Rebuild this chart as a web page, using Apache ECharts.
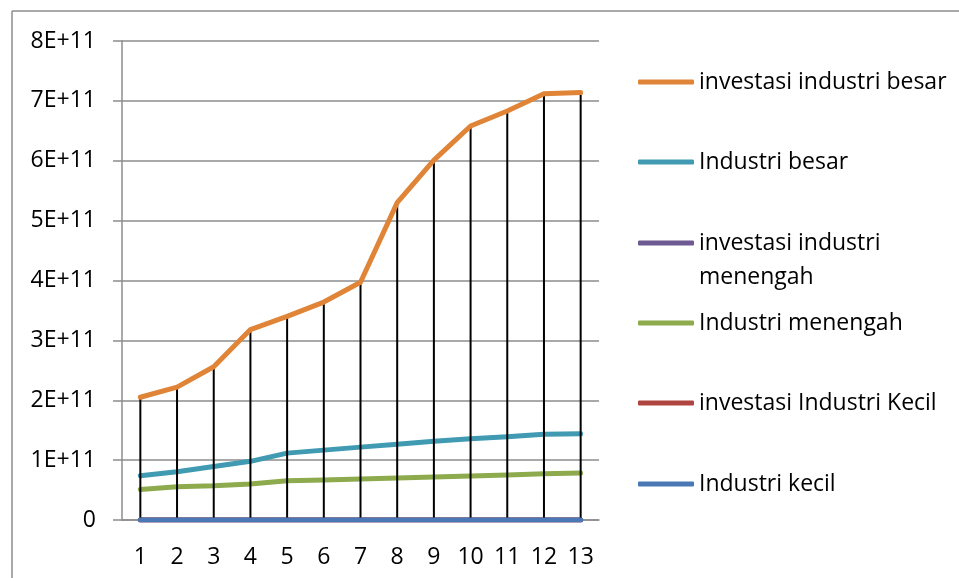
<!DOCTYPE html>
<html>
<head>
<meta charset="utf-8">
<script src="https://cdn.jsdelivr.net/npm/echarts@6/dist/echarts.min.js"></script>
<style>
  html, body { margin: 0; padding: 0; background: #fff; }
  #chart { width: 959px; height: 578px; }
</style>
</head>
<body>
<div id="chart"></div>
<script>
// Periods 1..13
const categories = ['1','2','3','4','5','6','7','8','9','10','11','12','13'];

// Series values
const investasiIndustriBesar    = [2.05e11, 2.22e11, 2.56e11, 3.18e11, 3.40e11, 3.64e11, 3.97e11, 5.30e11, 6.01e11, 6.58e11, 6.83e11, 7.12e11, 7.14e11];
const industriBesar             = [0.74e11, 0.805e11, 0.895e11, 0.98e11, 1.117e11, 1.167e11, 1.217e11, 1.267e11, 1.317e11, 1.355e11, 1.39e11, 1.433e11, 1.44e11];
const investasiIndustriMenengah = [0, 0, 0, 0, 0, 0, 0, 0, 0, 0, 0, 0, 0];
const industriMenengah          = [0.51e11, 0.555e11, 0.57e11, 0.60e11, 0.655e11, 0.667e11, 0.683e11, 0.70e11, 0.72e11, 0.733e11, 0.75e11, 0.772e11, 0.783e11];
const investasiIndustriKecil    = [0, 0, 0, 0, 0, 0, 0, 0, 0, 0, 0, 0, 0];
const industriKecil             = [0, 0, 0, 0, 0, 0, 0, 0, 0, 0, 0, 0, 0];

// Y axis tick labels
const yTickLabels = ['0', '1E+11', '2E+11', '3E+11', '4E+11', '5E+11', '6E+11', '7E+11', '8E+11'];

const seriesNames = [
  'investasi industri besar',
  'Industri besar',
  'investasi industri menengah',
  'Industri menengah',
  'investasi Industri Kecil',
  'Industri kecil'
];
const seriesColors = ['#E08538', '#3F9AB2', '#6E5A92', '#8DAA4D', '#B04440', '#4A78B4'];

const FONT = '"Open Sans"';
const FONT_SIZE = 23;
const gridColor = '#8c8c8c';

const chart = echarts.init(document.getElementById('chart'), null, { renderer: 'canvas' });

// High-low connectors: from the lowest value up to the highest value of each period
const dropLines = categories.map((c, i) => {
  const all = [investasiIndustriBesar[i], industriBesar[i], investasiIndustriMenengah[i], industriMenengah[i], investasiIndustriKecil[i], industriKecil[i]];
  return [Math.min.apply(null, all), Math.max.apply(null, all)];
});

function lineSeries(name, data, color, z) {
  return {
    name: name,
    type: 'line',
    data: data,
    symbol: 'none',
    z: z,
    lineStyle: { color: color, width: 5, cap: 'round', join: 'round' },
    itemStyle: { color: color },
    emphasis: { disabled: true },
    animation: false
  };
}

// Legend rows (icon centre y); the third entry wraps onto a second line
const legendRows = [82, 162, 243, 323, 403, 484];
const legendLabel = {
  'investasi industri menengah': 'investasi industri'
};
const legends = seriesNames.map((name, i) => ({
  data: [name],
  orient: 'vertical',
  left: 638,
  top: legendRows[i] - 15,
  padding: 0,
  itemWidth: 56,
  itemHeight: 5,
  icon: 'roundRect',
  selectedMode: false,
  formatter: (n) => legendLabel[n] || n,
  textStyle: { fontFamily: FONT, fontSize: FONT_SIZE, color: '#000', lineHeight: 30 }
}));

const option = {
  animation: false,
  backgroundColor: '#fff',
  grid: { left: 122, right: 360, top: 41, bottom: 58, containLabel: false },
  legend: legends,
  xAxis: {
    type: 'category',
    data: categories,
    boundaryGap: true,
    axisLine: { show: true, lineStyle: { color: gridColor, width: 1.5 } },
    axisTick: { show: false },
    axisLabel: { fontFamily: FONT, fontSize: FONT_SIZE, color: '#000', margin: 26 },
    splitLine: { show: false }
  },
  yAxis: {
    type: 'value',
    min: 0,
    max: 8e11,
    interval: 1e11,
    axisLine: { show: true, lineStyle: { color: gridColor, width: 1.5 } },
    axisTick: { show: true, length: 9, lineStyle: { color: gridColor, width: 1.5 } },
    axisLabel: {
      fontFamily: FONT, fontSize: FONT_SIZE, color: '#000', margin: 26,
      formatter: (v) => yTickLabels[Math.round(v / 1e11)]
    },
    splitLine: { show: true, lineStyle: { color: gridColor, width: 1.5 } }
  },
  series: [
    {
      name: 'high-low',
      type: 'custom',
      z: 3,
      silent: true,
      data: dropLines,
      renderItem: (params, api) => {
        const x = api.coord([params.dataIndex, 0])[0];
        const yLo = api.coord([params.dataIndex, api.value(0)])[1];
        const yHi = api.coord([params.dataIndex, api.value(1)])[1];
        return {
          type: 'line',
          shape: { x1: x, y1: yLo, x2: x, y2: yHi },
          style: { stroke: '#000', lineWidth: 2 }
        };
      },
      encode: { x: -1, y: [0, 1] },
      animation: false
    },
    lineSeries(seriesNames[0], investasiIndustriBesar, seriesColors[0], 5),
    lineSeries(seriesNames[1], industriBesar, seriesColors[1], 2),
    lineSeries(seriesNames[2], investasiIndustriMenengah, seriesColors[2], 2),
    lineSeries(seriesNames[3], industriMenengah, seriesColors[3], 2),
    lineSeries(seriesNames[4], investasiIndustriKecil, seriesColors[4], 2),
    lineSeries(seriesNames[5], industriKecil, seriesColors[5], 4)
  ],
  graphic: [
    {
      type: 'line',
      silent: true,
      shape: { x1: 12, y1: 11, x2: 959, y2: 11 },
      style: { stroke: '#8c8c8c', lineWidth: 1.5 }
    },
    {
      type: 'line',
      silent: true,
      shape: { x1: 12, y1: 11, x2: 12, y2: 578 },
      style: { stroke: '#8c8c8c', lineWidth: 1.5 }
    },
    {
      // second line of the wrapped legend entry
      type: 'text',
      silent: true,
      left: 699,
      top: 277 - 15,
      style: {
        text: 'menengah',
        font: FONT_SIZE + 'px ' + FONT,
        fill: '#000',
        lineHeight: 30,
        verticalAlign: 'top'
      }
    }
  ]
};

chart.setOption(option);
</script>
</body>
</html>
